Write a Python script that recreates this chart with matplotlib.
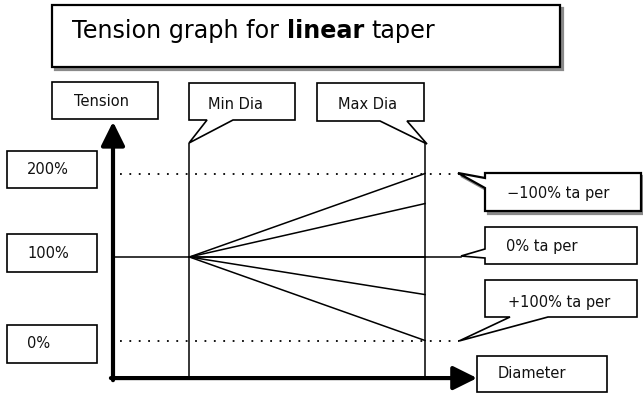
import matplotlib
matplotlib.use('Agg')
import matplotlib.pyplot as plt
from matplotlib.patches import Polygon

# --- data: tension (%) vs diameter for a linear taper ---
tension_levels = [0, 100, 200]
tension_labels = ['0%', '100%', '200%']
min_dia = 0.245
max_dia = 1.0
start_tension = 100
end_tension = [200, 164, 100, 55, 0]     # tension at max dia per taper line
taper_labels = ['\u2212100% ta per', '0% ta per', '+100% ta per']
axis_labels = ['Tension', 'Diameter']
dia_labels = ['Min Dia', 'Max Dia']
title_parts = ['Tension graph for', 'linear', 'taper']

W, H = 643, 394
PX_X = 312.0      # pixels per diameter unit
PX_Y = 0.835      # pixels per tension %
OX, OY = 113, 257  # pixel of (dia 0, tension 100)

fig = plt.figure(figsize=(W / 100, H / 100), dpi=100)
fig.patch.set_facecolor('white')

# data axes
ax = fig.add_axes([0, 0, 1, 1])
ax.set_xlim(-OX / PX_X, (W - OX) / PX_X)
ax.set_ylim(100 - (H - OY) / PX_Y, 100 + OY / PX_Y)
ax.axis('off')

# layout axes in pixel coords for boxes / callouts
lay = fig.add_axes([0, 0, 1, 1])
lay.set_xlim(0, W)
lay.set_ylim(H, 0)
lay.axis('off')
lay.patch.set_alpha(0)

LW = 1.1
t_base = -45
t_vtop = 236.5
t_arrow = 262
x_end = 1.108

# reference levels
for lvl in tension_levels:
    if lvl == start_tension:
        ax.plot([0, x_end + 0.008], [lvl, lvl], color='k', lw=LW)
    else:
        ax.plot([0.022, x_end], [lvl, lvl], color='k', lw=1.3,
                linestyle=(0, (1, 4.2)))

# taper lines
for e in end_tension:
    ax.plot([min_dia, max_dia], [start_tension, e], color='k', lw=LW)

# min / max dia verticals
ax.vlines([min_dia, max_dia], t_base, t_vtop, color='k', lw=LW)

# axes with arrows
arw = dict(arrowstyle='-|>,head_length=1.45,head_width=0.72', lw=3,
           color='k', shrinkA=0, shrinkB=0)
ax.annotate('', xy=(0, t_arrow), xytext=(0, t_base - 2.5), arrowprops=arw)
ax.annotate('', xy=(1.167, t_base), xytext=(-0.0067, t_base), arrowprops=arw)


def shape(verts, lw=1.2, shadow=False):
    if shadow:
        sh = [(x + 3, y + 3) for x, y in verts]
        lay.add_patch(Polygon(sh, closed=True, facecolor='#8a8a8a',
                              edgecolor='#8a8a8a', lw=lw, zorder=3))
    lay.add_patch(Polygon(verts, closed=True, facecolor='white',
                          edgecolor='black', lw=lw, zorder=4,
                          joinstyle='miter'))


def rect(x0, y0, x1, y1, **kw):
    shape([(x0, y0), (x1, y0), (x1, y1), (x0, y1)], **kw)


def label(x, y, s, size=10.5):
    lay.text(x, y, s, ha='left', va='center', fontsize=size, zorder=5,
             color='#111111')


# title box
rect(52, 5, 560, 67, lw=1.6, shadow=True)
fs = 17.2
t1 = lay.text(72, 38, title_parts[0], fontsize=fs, va='baseline', zorder=5)
fig.canvas.draw()
r = fig.canvas.get_renderer()
inv = lay.transData.inverted()
space = 0.318 * fs * 100 / 72
x = inv.transform((t1.get_window_extent(r).x1, 0))[0] + space
t2 = lay.text(x, 38, title_parts[1], fontsize=fs, va='baseline',
              fontweight='bold', zorder=5)
fig.canvas.draw()
x = inv.transform((t2.get_window_extent(r).x1, 0))[0] + space
lay.text(x, 38, title_parts[2], fontsize=fs, va='baseline', zorder=5)

# tension axis label
rect(52, 82, 158, 119)
label(74, 101, axis_labels[0])

# level labels
level_boxes = [(325, 363), (234, 272), (151, 188)]
for (y0, y1), txt in zip(level_boxes, tension_labels):
    rect(7, y0, 97, y1)
    label(27, (y0 + y1) / 2, txt)

# min / max dia callouts
shape([(189, 83), (295, 83), (295, 120), (233, 120), (189, 143),
       (207, 120), (189, 120)])
label(208, 104, dia_labels[0])
shape([(317, 83), (424, 83), (424, 121), (407, 121), (427, 144),
       (380, 121), (317, 121)])
label(338, 104, dia_labels[1])

# taper callouts
shape([(485, 173), (641, 173), (641, 211), (485, 211), (485, 188),
       (458, 173), (485, 178)], lw=1.6, shadow=True)
label(507, 193, taper_labels[0])
shape([(485, 227), (637, 227), (637, 264), (485, 264), (485, 258),
       (461, 256), (485, 249)])
label(506, 246, taper_labels[1])
shape([(485, 280), (637, 280), (637, 317), (548, 317), (459, 341),
       (510, 317), (485, 317)])
label(508, 303, taper_labels[2])

# diameter axis label
rect(477, 356, 607, 392)
label(498, 374, axis_labels[1])

fig.savefig('out.png', dpi=100)
